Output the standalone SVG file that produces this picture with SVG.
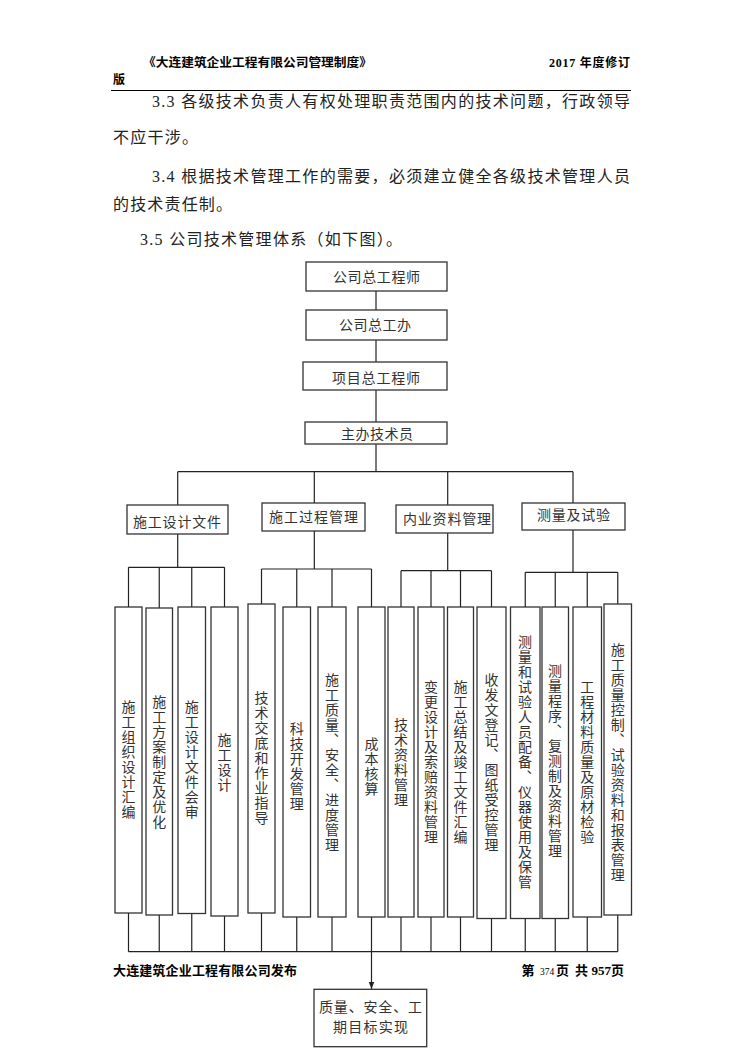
<svg xmlns="http://www.w3.org/2000/svg" width="744" height="1052" viewBox="0 0 744 1052">
<defs>
<style>
.hd{font-family:"Liberation Serif","Noto Sans CJK SC",serif;font-weight:bold;font-size:12px;fill:#000}
.ft{font-family:"Liberation Serif","Noto Sans CJK SC",serif;font-weight:bold;font-size:13px;fill:#000}
.body{font-family:"Liberation Serif","Noto Sans CJK SC",serif;font-size:16px;fill:#222}
.box{fill:#fff;stroke:#333;stroke-width:1.3}
.lbl{font-family:"Noto Sans CJK SC",sans-serif;font-size:14px;fill:#333}
.vt{font-family:"Noto Sans CJK SC",sans-serif;font-size:14px;fill:#333;writing-mode:vertical-rl;text-anchor:middle;letter-spacing:1px}
.ln{stroke:#222;stroke-width:1.2;fill:none}
</style>
<marker id="arr" viewBox="0 0 10 10" refX="10" refY="5" markerWidth="7" markerHeight="7" orient="auto" markerUnits="userSpaceOnUse">
<path d="M0,1 L10,5 L0,9 z" fill="#222"/>
</marker>
</defs>
<rect width="744" height="1052" fill="#fff"/>

<g id="page-header">
<text class="hd" x="143" y="67" textLength="229" lengthAdjust="spacingAndGlyphs">《大连建筑企业工程有限公司管理制度》</text>
<text class="hd" x="549" y="67" textLength="81" lengthAdjust="spacing">2017 年度修订</text>
<text class="hd" x="113" y="84">版</text>
<line x1="111" y1="90.5" x2="631" y2="90.5" stroke="#000" stroke-width="1"/>
</g>

<g id="paragraphs">
<text class="body" x="152" y="107" textLength="478" lengthAdjust="spacing">3.3 各级技术负责人有权处理职责范围内的技术问题，行政领导</text>
<text class="body" x="113" y="143" textLength="85" lengthAdjust="spacing">不应干涉。</text>
<text class="body" x="152" y="182" textLength="478" lengthAdjust="spacing">3.4 根据技术管理工作的需要，必须建立健全各级技术管理人员</text>
<text class="body" x="113" y="210" textLength="119" lengthAdjust="spacing">的技术责任制。</text>
<text class="body" x="140" y="245" textLength="262" lengthAdjust="spacing">3.5 公司技术管理体系（如下图）。</text>
</g>

<g id="connectors">
<line class="ln" x1="376" y1="291" x2="376" y2="310"/>
<line class="ln" x1="376" y1="340" x2="376" y2="362"/>
<line class="ln" x1="376" y1="390" x2="376" y2="422"/>
<line class="ln" x1="376" y1="444" x2="376" y2="471.7"/>
<line class="ln" x1="177.7" y1="471.7" x2="573" y2="471.7"/>
<line class="ln" x1="177.7" y1="471.7" x2="177.7" y2="505"/>
<line class="ln" x1="314.3" y1="471.7" x2="314.3" y2="503"/>
<line class="ln" x1="447.7" y1="471.7" x2="447.7" y2="505"/>
<line class="ln" x1="573" y1="471.7" x2="573" y2="503"/>
<line class="ln" x1="177.7" y1="534" x2="177.7" y2="567.3"/>
<line class="ln" x1="314.3" y1="531" x2="314.3" y2="569"/>
<line class="ln" x1="447.7" y1="533" x2="447.7" y2="570.7"/>
<line class="ln" x1="573" y1="530" x2="573" y2="572.3"/>
<line class="ln" x1="128.5" y1="567.3" x2="224.5" y2="567.3"/>
<line class="ln" x1="261.5" y1="569" x2="371.5" y2="569"/>
<line class="ln" x1="401" y1="570.7" x2="491.5" y2="570.7"/>
<line class="ln" x1="525.25" y1="572.3" x2="617.75" y2="572.3"/>
<path class="ln" d="M128.5,567.3V607 M159.25,567.3V608 M191.75,567.3V607 M224.5,567.3V607"/>
<path class="ln" d="M261.5,569V604 M296.75,569V607 M332,569V607 M371.5,569V607"/>
<path class="ln" d="M401,570.7V607 M431,570.7V607 M460.5,570.7V607 M491.5,570.7V607"/>
<path class="ln" d="M525.25,572.3V607 M555.25,572.3V607 M587.25,572.3V607 M617.75,572.3V604"/>
<path class="ln" d="M128.5,913V951.7 M159.25,915V951.7 M191.75,913.5V951.7 M224.5,916V951.7 M261.5,913V951.7 M296.75,917V951.7 M332,917V951.7 M401,917V951.7 M431,917V951.7 M460.5,917V951.7 M491.5,918.5V951.7 M525.25,918.5V951.7 M555.25,918.5V951.7 M587.25,917V951.7 M617.75,915V951.7"/>
<line class="ln" x1="128.5" y1="951.7" x2="617.75" y2="951.7"/>
<line class="ln" x1="371.5" y1="917" x2="371.5" y2="989" marker-end="url(#arr)"/>
</g>

<g id="n-zgcs"><rect class="box" x="306" y="262" width="141" height="29"/><text class="lbl" x="333" y="281.5" textLength="87" lengthAdjust="spacing">公司总工程师</text></g>
<g id="n-zgb"><rect class="box" x="306" y="310" width="141" height="30"/><text class="lbl" x="339" y="330" textLength="72" lengthAdjust="spacing">公司总工办</text></g>
<g id="n-xmzg"><rect class="box" x="303" y="362" width="144" height="28"/><text class="lbl" x="332" y="383" textLength="88" lengthAdjust="spacing">项目总工程师</text></g>
<g id="n-zbjsy"><rect class="box" x="305" y="422" width="142" height="22"/><text class="lbl" x="341" y="438.5" textLength="72" lengthAdjust="spacing">主办技术员</text></g>

<g id="c-sjwj"><rect class="box" x="127" y="505" width="101" height="29"/><text class="lbl" x="133" y="526.5" textLength="88" lengthAdjust="spacing">施工设计文件</text></g>
<g id="c-gcgl"><rect class="box" x="262" y="503" width="103" height="28"/><text class="lbl" x="269" y="521.5" textLength="89" lengthAdjust="spacing">施工过程管理</text></g>
<g id="c-nyzl"><rect class="box" x="396" y="505" width="97" height="28"/><text class="lbl" x="403" y="524" textLength="88" lengthAdjust="spacing">内业资料管理</text></g>
<g id="c-clsy"><rect class="box" x="522" y="503" width="103" height="27"/><text class="lbl" x="537" y="520" textLength="73" lengthAdjust="spacing">测量及试验</text></g>

<g id="v-a"><rect class="box" x="115" y="607" width="27" height="306"/><text class="vt" x="128.5" y="760">施工组织设计汇编</text></g>
<g id="v-b"><rect class="box" x="146" y="608" width="26.5" height="307"/><text class="vt" x="159.25" y="762">施工方案制定及优化</text></g>
<g id="v-c"><rect class="box" x="178" y="607" width="27.5" height="306.5"/><text class="vt" x="191.75" y="760">施工设计文件会审</text></g>
<g id="v-d"><rect class="box" x="211" y="607" width="27" height="309"/><text class="vt" x="224.5" y="762.5">施工设计</text></g>
<g id="v-e"><rect class="box" x="248" y="604" width="27" height="309"/><text class="vt" x="261.5" y="758.5">技术交底和作业指导</text></g>
<g id="v-f"><rect class="box" x="283" y="607" width="27.5" height="310"/><text class="vt" x="296.75" y="766.5">科技开发管理</text></g>
<g id="v-g"><rect class="box" x="318" y="607" width="28" height="310"/><text class="vt" x="332" y="762.5">施工质量、安全、进度管理</text></g>
<g id="v-h"><rect class="box" x="358" y="607" width="27" height="310"/><text class="vt" x="371.5" y="766.5">成本核算</text></g>
<g id="v-i"><rect class="box" x="388" y="607" width="26" height="310"/><text class="vt" x="401" y="762.5">技术资料管理</text></g>
<g id="v-j"><rect class="box" x="418" y="607" width="26" height="310"/><text class="vt" x="431" y="762.5">变更设计及索赔资料管理</text></g>
<g id="v-k"><rect class="box" x="447.5" y="607" width="26" height="310"/><text class="vt" x="460.5" y="762">施工总结及竣工文件汇编</text></g>
<g id="v-l"><rect class="box" x="477" y="607" width="29" height="311.5"/><text class="vt" x="491.5" y="762.5">收发文登记、图纸受控管理</text></g>
<g id="v-m"><rect class="box" x="510.5" y="607" width="29.5" height="311.5"/><text class="vt" x="525" y="762.5">测量和试验人员配备、仪器使用及保管</text></g>
<g id="v-n"><rect class="box" x="542" y="607" width="26.5" height="311.5"/><text class="vt" x="555" y="761">测量程序、复测制及资料管理</text></g>
<g id="v-o"><rect class="box" x="573" y="607" width="28.5" height="310"/><text class="vt" x="587.25" y="762">工程材料质量及原材检验</text></g>
<g id="v-p"><rect class="box" x="604" y="604" width="27.5" height="311"/><text class="vt" x="617.75" y="763">施工质量控制、试验资料和报表管理</text></g>

<g id="n-goal"><rect class="box" x="314" y="989.3" width="112.7" height="57.4"/>
<text class="lbl" x="319" y="1012" textLength="103" lengthAdjust="spacing">质量、安全、工</text>
<text class="lbl" x="333" y="1032" textLength="75" lengthAdjust="spacing">期目标实现</text></g>

<g id="page-footer">
<text class="ft" x="113" y="975" textLength="184" lengthAdjust="spacing">大连建筑企业工程有限公司发布</text>
<text class="ft" x="521.5" y="975">第</text>
<text x="540" y="975" font-family="Liberation Serif" font-size="9.5" fill="#000">374</text>
<text class="ft" x="556" y="975">页</text>
<text class="ft" x="575" y="975">共</text>
<text class="ft" x="591.5" y="975" font-size="12">957</text>
<text class="ft" x="611" y="975">页</text>
</g>
</svg>
